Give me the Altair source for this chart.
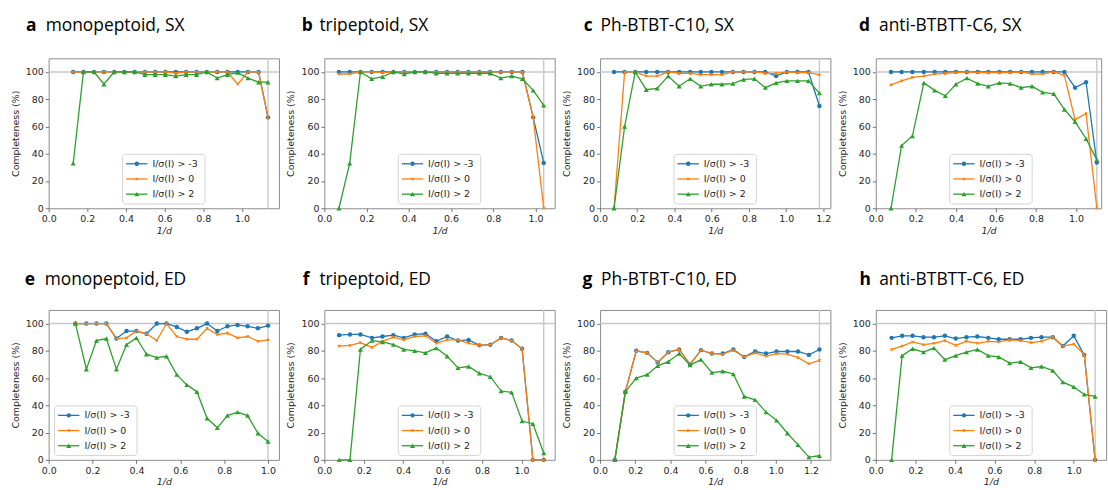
import altair as alt
import pandas as pd

SERIES = ["I/σ(I) > -3", "I/σ(I) > 0", "I/σ(I) > 2"]
COLORS = ["#1f77b4", "#ff7f0e", "#2ca02c"]

# ---- panel a: monopeptoid, SX
A_X = [0.127, 0.180, 0.235, 0.286, 0.339, 0.392, 0.445, 0.498, 0.551, 0.604, 0.658, 0.711, 0.765, 0.818, 0.872, 0.925, 0.978, 1.031, 1.086, 1.135]
A_B = [100, 100, 100, 100, 100, 100, 100, 100, 100, 100, 100, 100, 100, 100, 100, 100, 100, 100, 100, 66.7]
A_O = [100, 100, 100, 100, 100, 100, 100, 100, 100, 100, 99, 100, 100, 100, 100, 100, 91, 100, 100, 66.7]
A_G = [33, 100, 100, 91, 100, 100, 100, 98, 98, 98, 97, 98, 98, 100, 95.5, 98, 99.5, 95.5, 92.5, 92.5]

# ---- panel b: tripeptoid, SX
B_X = [0.069, 0.120, 0.171, 0.224, 0.276, 0.327, 0.379, 0.428, 0.478, 0.530, 0.581, 0.631, 0.682, 0.734, 0.785, 0.836, 0.888, 0.938, 0.989, 1.039]
B_B = [100, 100, 100, 100, 100, 100, 100, 100, 100, 100, 100, 100, 100, 100, 100, 100, 100, 100, 66.7, 33.3]
B_O = [98.5, 98.5, 100, 100, 99.5, 100, 100, 100, 100, 100, 100, 100, 100, 100, 100, 100, 100, 100, 66.7, 0]
B_G = [0, 33, 100, 95, 96.5, 100, 98.5, 100, 100, 99, 99, 99, 99, 99, 99, 95.5, 97, 95, 86.5, 75.5]

# ---- panel c: Ph-BTBT-C10, SX
C_X = [0.075, 0.132, 0.189, 0.248, 0.307, 0.366, 0.425, 0.484, 0.541, 0.598, 0.655, 0.714, 0.771, 0.830, 0.888, 0.946, 1.004, 1.061, 1.120, 1.179]
C_B = [100, 100, 100, 100, 100, 100, 100, 100, 100, 100, 100, 100, 100, 100, 100, 97, 100, 100, 100, 75]
C_O = [0, 100, 100, 97, 97, 100, 99, 99, 98, 98, 98, 100, 100, 100, 99, 99, 100, 99.5, 99.5, 98]
C_G = [0, 60, 100, 87, 88, 97, 89.5, 95, 89.5, 91, 91, 91.5, 94.5, 95, 88.5, 92, 93.5, 93.5, 93.5, 84.5]

# ---- panel d: anti-BTBTT-C6, SX
D_X = [0.076, 0.129, 0.183, 0.240, 0.294, 0.347, 0.400, 0.455, 0.509, 0.562, 0.617, 0.671, 0.726, 0.780, 0.833, 0.889, 0.942, 0.995, 1.050, 1.104]
D_B = [100, 100, 100, 100, 100, 100, 100, 100, 100, 100, 100, 100, 100, 100, 100, 100, 100, 88.5, 92.5, 33.5]
D_O = [90.5, 93.5, 96, 97, 98.5, 99, 99.5, 100, 99.5, 99.5, 99.5, 99.5, 100, 98.5, 98.5, 100, 97.5, 65, 69.5, 0]
D_G = [0, 46, 53, 92, 86.5, 82.5, 91, 95.5, 91.5, 89.5, 92, 91.5, 88.5, 89.5, 85, 84, 72.5, 63.5, 51, 35.5]

# ---- panel e: monopeptoid, ED
E_X = [0.122, 0.172, 0.218, 0.263, 0.309, 0.355, 0.400, 0.446, 0.493, 0.537, 0.584, 0.630, 0.676, 0.722, 0.769, 0.815, 0.861, 0.907, 0.954, 1.000]
E_B = [100, 100, 100, 100, 89, 94.5, 94.5, 92.5, 100, 100, 97.5, 94, 96.5, 100, 94.5, 98, 99, 98, 96.5, 98.5]
E_O = [100, 100, 100, 100, 89, 89.5, 94.5, 92.5, 87.5, 100, 90.5, 88.5, 88.5, 96.5, 92, 93, 89.5, 90.5, 87, 88]
E_G = [100, 66.5, 87.5, 89, 66.5, 84.5, 89.5, 77.5, 75, 76, 62.5, 55, 50, 30.5, 23.5, 32.5, 35, 32.5, 19.5, 13.5]

# ---- panel f: tripeptoid, ED
F_X = [0.075, 0.130, 0.183, 0.242, 0.295, 0.350, 0.403, 0.458, 0.513, 0.568, 0.623, 0.678, 0.732, 0.787, 0.842, 0.897, 0.950, 1.003, 1.058, 1.113]
F_B = [91.5, 92, 92, 89.5, 90.5, 91.5, 89.5, 92, 92.5, 87, 90.5, 87.5, 88, 84, 84.5, 89.5, 87.5, 81.5, 0, 0]
F_O = [83.5, 84, 86, 82.5, 87, 90, 88, 90.5, 91, 85.5, 88, 88, 85.5, 84, 84.5, 89.5, 87.5, 81.5, 0, 0]
F_G = [0, 0, 81, 87.5, 86.5, 84.5, 81, 80, 78.5, 82, 76, 67.5, 68.5, 63.5, 61, 50.5, 49.5, 28.5, 26.5, 5]

# ---- panel g: Ph-BTBT-C10, ED
G_X = [0.084, 0.144, 0.206, 0.268, 0.328, 0.388, 0.450, 0.512, 0.574, 0.636, 0.698, 0.758, 0.820, 0.882, 0.944, 1.004, 1.066, 1.126, 1.188, 1.248]
G_B = [0, 50, 80, 78.5, 71.5, 79, 81, 70, 80.5, 78, 78, 81, 75.5, 79.5, 78, 79.5, 79.5, 79.5, 77, 81]
G_O = [0, 50, 80, 78.5, 71.5, 79, 81, 70, 80.5, 78, 77.5, 80.5, 75.5, 78.5, 76, 78, 77.5, 75, 70.5, 73]
G_G = [0, 50, 60, 62.5, 69, 72, 78, 69.5, 73.5, 64, 65, 63, 46.5, 44, 35, 29, 19.5, 11, 2, 3]

# ---- panel h: anti-BTBTT-C6, ED
H_X = [0.080, 0.133, 0.186, 0.241, 0.294, 0.349, 0.404, 0.458, 0.513, 0.568, 0.621, 0.676, 0.731, 0.784, 0.837, 0.894, 0.945, 1.000, 1.053, 1.108]
H_B = [89.5, 91, 91, 90, 90, 91, 89, 90, 90.5, 89.5, 88.5, 88.5, 88.5, 89.5, 90, 90, 83.5, 91, 77, 0]
H_O = [81, 83.5, 86.5, 84.5, 85.5, 87.5, 84, 87, 85.5, 87, 86.5, 88, 87.5, 86, 87, 90, 83.5, 85, 77, 0]
H_G = [0, 76.5, 81.5, 79, 82, 73.5, 76.5, 79, 81, 76.5, 75.5, 71, 72, 67.5, 68.5, 65.5, 57, 53.5, 48, 46.5]

LETTERS = ["a", "b", "c", "d", "e", "f", "g", "h"]
NAMES = ["monopeptoid, SX", "tripeptoid, SX", "Ph-BTBT-C10, SX", "anti-BTBTT-C6, SX",
         "monopeptoid, ED", "tripeptoid, ED", "Ph-BTBT-C10, ED", "anti-BTBTT-C6, ED"]
PANEL_DATA = [(A_X, A_B, A_O, A_G), (B_X, B_B, B_O, B_G), (C_X, C_B, C_O, C_G), (D_X, D_B, D_O, D_G),
              (E_X, E_B, E_O, E_G), (F_X, F_B, F_O, F_G), (G_X, G_B, G_O, G_G), (H_X, H_B, H_O, H_G)]

# title placement relative to each plot's left edge (letter, name)
LETTER_DX = [-22.7, -22.7, -16.5, -17, -24, -21.7, -17.6, -16.5]
NAME_DX = [-3, -5, 0.5, 3.3, -4, -5, 1, 3.4]

PW = 232
PH = 151
XSHAPE = "M-0.5,-0.5L0.5,0.5M-0.5,0.5L0.5,-0.5"
FONT = "DejaVu Sans"
TFONT = "Open Sans"


def make_panel(i):
    xs, yb, yo, yg = PANEL_DATA[i]
    xmax = 1.05 * max(xs)
    width = PW
    if i == 3:
        width = 227
        xmax = 227 / 201.7
    ticks = [t / 10 for t in range(0, 14, 2) if t / 10 <= xmax + 1e-9]
    xenc = alt.X("x:Q", scale=alt.Scale(domain=[0, xmax], nice=False, zero=False),
                 axis=alt.Axis(values=ticks, format=".1f", title="1/d", titleFontStyle="italic"))
    yenc = alt.Y("y:Q", scale=alt.Scale(domain=[0, 110], nice=False),
                 axis=alt.Axis(values=[0, 20, 40, 60, 80, 100], format="d", title="Completeness (%)"))

    layers = []
    layers.append(alt.Chart(pd.DataFrame({"y": [100]})).mark_rule(color="#c8c8c8", strokeWidth=1.4).encode(y=yenc))
    layers.append(alt.Chart(pd.DataFrame({"x": [max(xs)]})).mark_rule(color="#c8c8c8", strokeWidth=1.4).encode(x=xenc))

    for s, ys in enumerate([yb, yo, yg]):
        df = pd.DataFrame({"x": xs, "y": ys})
        layers.append(alt.Chart(df).mark_line(color=COLORS[s], strokeWidth=1.3).encode(x=xenc, y=yenc))
        if s == 0:
            pt = alt.Chart(df).mark_point(shape="circle", filled=True, color=COLORS[s], size=20, opacity=1)
        elif s == 1:
            pt = alt.Chart(df).mark_point(shape=XSHAPE, filled=False, color=COLORS[s], size=22, strokeWidth=1.1, opacity=1)
        else:
            pt = alt.Chart(df).mark_point(shape="triangle-up", filled=True, color=COLORS[s], size=26, opacity=1)
        layers.append(pt.encode(x=xenc, y=yenc))

    # legend box
    lx = 6 if i == 4 else 74.5
    ly = 96.7
    one = pd.DataFrame({"k": [0]})
    layers.append(alt.Chart(one).mark_rect(fill="white", fillOpacity=0.85, stroke="#d4d4d4", strokeWidth=1, cornerRadius=3)
                  .encode(x=alt.value(lx), x2=alt.value(lx + 83), y=alt.value(ly), y2=alt.value(ly + 50)))
    for s in range(3):
        ry = ly + 9.5 + 15.3 * s
        layers.append(alt.Chart(one).mark_rule(color=COLORS[s], strokeWidth=1.3)
                      .encode(x=alt.value(lx + 3.5), x2=alt.value(lx + 25), y=alt.value(ry)))
        if s == 0:
            pm = alt.Chart(one).mark_point(shape="circle", filled=True, color=COLORS[s], size=20, opacity=1)
        elif s == 1:
            pm = alt.Chart(one).mark_point(shape=XSHAPE, filled=False, color=COLORS[s], size=22, strokeWidth=1.1, opacity=1)
        else:
            pm = alt.Chart(one).mark_point(shape="triangle-up", filled=True, color=COLORS[s], size=26, opacity=1)
        layers.append(pm.encode(x=alt.value(lx + 14.3), y=alt.value(ry)))
        layers.append(alt.Chart(one).mark_text(text=SERIES[s], font=FONT, fontSize=9.5, color="#262626",
                                              align="left", baseline="middle")
                      .encode(x=alt.value(lx + 30), y=alt.value(ry)))

    # panel title
    ty = -27.6 if i < 4 else -25
    layers.append(alt.Chart(one).mark_text(text=LETTERS[i], font=TFONT, fontSize=17.5, fontWeight="bold",
                                          color="black", align="left", baseline="alphabetic")
                  .encode(x=alt.value(LETTER_DX[i]), y=alt.value(ty)))
    layers.append(alt.Chart(one).mark_text(text=NAMES[i], font=TFONT, fontSize=17.5,
                                          color="black", align="left", baseline="alphabetic")
                  .encode(x=alt.value(NAME_DX[i]), y=alt.value(ty)))

    return alt.layer(*layers).properties(width=width, height=PH)


chart = alt.concat(
    *[make_panel(i) for i in range(8)],
    columns=4,
    spacing={"row": 102.4, "column": 45.7},
    bounds="flush",
).properties(
    padding={"left": 9, "top": 14, "right": 0, "bottom": 0},
    background="white",
).configure_view(
    stroke="#8c8c8c", strokeWidth=1
).configure_axis(
    domain=False, grid=False, tickColor="#555555", tickSize=3.5, tickWidth=0.8,
    labelFont=FONT, labelFontSize=9.5, labelColor="#262626", labelPadding=2,
    labelFlush=False, labelOverlap=False,
    titleFont=FONT, titleFontSize=9.5, titleFontWeight="normal", titleColor="#262626",
).configure_axisX(titlePadding=2).configure_axisY(titlePadding=5)

chart.save("out.html", embed_options={"renderer": "svg", "actions": False})
